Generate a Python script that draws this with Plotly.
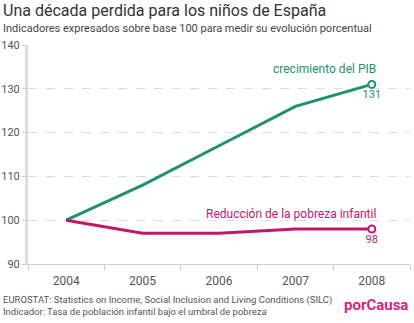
import plotly.graph_objects as go

years = ["2004", "2005", "2006", "2007", "2008"]
pib = [100, 108, 117, 126, 131]
pobreza = [100, 97, 97, 98, 98]
y_ticks = [90, 100, 110, 120, 130, 140]

GREEN = "#21906b"
PINK = "#c2176c"
FONT = "Roboto, sans-serif"

fig = go.Figure()

for vals, color in [(pib, GREEN), (pobreza, PINK)]:
    fig.add_trace(go.Scatter(
        x=years, y=vals, mode="lines",
        line=dict(color=color, width=3), hoverinfo="skip", showlegend=False,
    ))
    fig.add_trace(go.Scatter(
        x=[years[-1]], y=[vals[-1]], mode="markers+text",
        marker=dict(symbol="circle", size=7, color="white",
                    line=dict(color=color, width=2)),
        text=[str(vals[-1])], textposition="bottom center",
        textfont=dict(family=FONT, size=11, color=color),
        hoverinfo="skip", showlegend=False,
    ))

# series names, placed above the last point (category index of 2008)
last = len(years) - 1
fig.add_annotation(x=last, y=pib[-1], text="crecimiento del PIB",
                   xanchor="right", yanchor="bottom", xshift=6, yshift=6,
                   showarrow=False, font=dict(family=FONT, size=12, color=GREEN))
fig.add_annotation(x=last, y=pobreza[-1], text="Reducción de la pobreza infantil",
                   xanchor="right", yanchor="bottom", xshift=6, yshift=6,
                   showarrow=False, font=dict(family=FONT, size=12, color=PINK))

fig.update_layout(
    width=414, height=323,
    margin=dict(l=28, r=4, t=45, b=59),
    paper_bgcolor="white", plot_bgcolor="white",
    font=dict(family=FONT, color="#444"),
    xaxis=dict(
        type="category", range=[-0.5, 4.5], tickson="boundaries",
        ticks="outside", ticklen=5, tickcolor="#ccc", ticklabelstandoff=6,
        showline=True, linecolor="#ccc", linewidth=1, automargin=False,
        showgrid=False, tickfont=dict(family=FONT, size=12, color="#555"),
        fixedrange=True,
    ),
    yaxis=dict(
        range=[90, 140], tickvals=y_ticks, ticks="outside", ticklen=3,
        tickcolor="#ccc", showline=True, linecolor="#ddd", linewidth=3,
        showgrid=True, gridcolor="#ddd", griddash="dash", gridwidth=1,
        zeroline=False, tickfont=dict(family=FONT, size=11, color="#555"),
        automargin=False, fixedrange=True,
    ),
)

fig.add_annotation(xref="paper", yref="paper", x=-0.07, y=1.0, yshift=46,
                   xanchor="left", yanchor="top", showarrow=False,
                   text="Una década perdida para los niños de España",
                   font=dict(family=FONT, size=16, color="#333"))
fig.add_annotation(xref="paper", yref="paper", x=-0.07, y=1.0, yshift=25,
                   xanchor="left", yanchor="top", showarrow=False,
                   text="Indicadores expresados sobre base 100 para medir su evolución porcentual",
                   font=dict(family=FONT, size=11, color="#444"))
fig.add_annotation(xref="paper", yref="paper", x=-0.07, y=0, yshift=-28,
                   xanchor="left", yanchor="top", showarrow=False, align="left",
                   text="EUROSTAT: Statistics on Income, Social Inclusion and Living Conditions (SILC)<br>"
                        "Indicador: Tasa de población infantil bajo el umbral de pobreza",
                   font=dict(family=FONT, size=9.5, color="#555"))
fig.add_annotation(xref="paper", yref="paper", x=1.0, y=0, yshift=-30,
                   xanchor="right", yanchor="top", showarrow=False,
                   text="<b>porCausa</b>",
                   font=dict(family=FONT, size=15, color="#d6237d"))

fig.write_html("out.html")
